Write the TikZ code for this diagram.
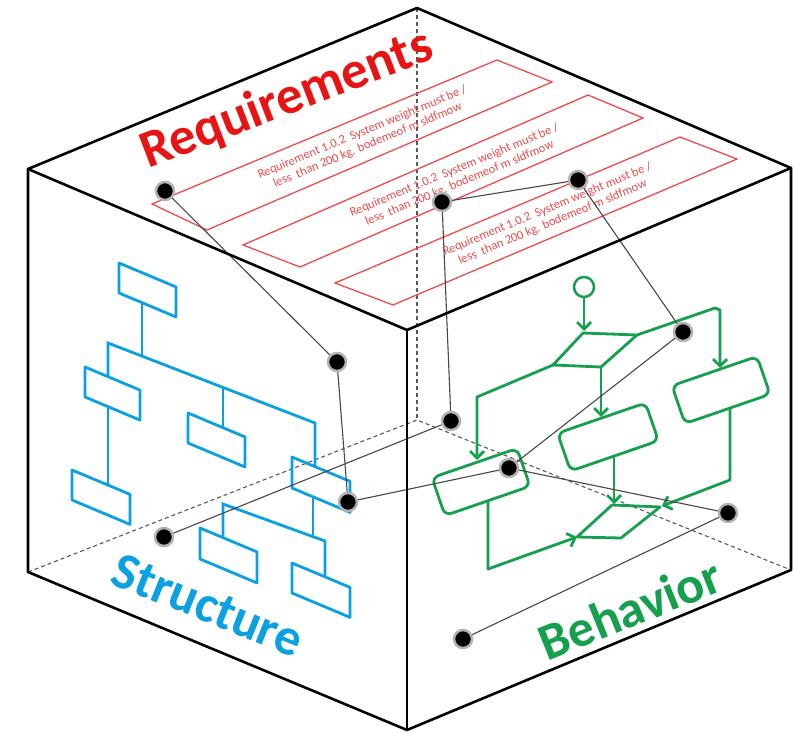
\documentclass[tikz,border=0pt]{standalone}
\usepackage{fontspec}
\setmainfont{Carlito}
\usetikzlibrary{arrows.meta}
\definecolor{reqred}{RGB}{232,20,20}
\definecolor{boxred}{RGB}{238,75,75}
\definecolor{strblue}{RGB}{10,160,225}
\definecolor{behgreen}{RGB}{22,160,78}
\newcommand{\sbx}[4]{\draw[sbox] (#1,#2) -- ++(#3,{0.42*#3}) -- ++(0,#4) -- ++(-#3,{-0.42*#3}) -- cycle;}
\begin{document}
\begin{tikzpicture}[x=1pt,y=-1pt,
 edge/.style={line width=2.6pt, line cap=round, line join=round},
 hidden/.style={black!65, line width=1.1pt, dash pattern=on 4pt off 3pt},
 link/.style={black!72, line width=1.1pt},
 dot/.style={circle, fill=black, draw=black!30, line width=2.5pt, minimum size=18pt, inner sep=0pt},
 reqbox/.style={boxred, line width=1.3pt},
 reqtext/.style={text=boxred, font=\fontsize{12.5}{14}\selectfont, align=center, rotate=22.6, inner sep=0pt},
 sbox/.style={strblue, line width=2.8pt, line join=round},
 sline/.style={strblue, line width=2.8pt},
 gline/.style={behgreen, line width=2.8pt, line join=round},
 garrow/.style={gline, -{Straight Barb[length=7pt,width=14pt]}},
 gbox/.style={draw=behgreen, line width=2.8pt, rounded corners=7pt, minimum width=90pt, minimum height=40pt, rotate=19, inner sep=0pt},
 title/.style={font=\fontsize{53}{60}\selectfont\bfseries, inner sep=0pt}
]
\useasboundingbox (0,0) rectangle (793,733);
\fill[white] (0,0) rectangle (793,733);
% cube corners
\coordinate (T) at (417,8);
\coordinate (L) at (28,169);
\coordinate (R) at (791,168);
\coordinate (F) at (407,330);
\coordinate (BL) at (28,572);
\coordinate (BF) at (407,730);
\coordinate (BR) at (791,570);
\coordinate (H) at (417,420);
% hidden edges
\draw[hidden] (T) -- (H);
\draw[hidden] (BL) -- (H) -- (BR);
% requirements
\draw[reqbox] (152,204) -- (497,60) -- (552,82) -- (207,230) -- cycle;
\draw[reqbox] (243,245) -- (588,95) -- (643,118) -- (300,267) -- cycle;
\draw[reqbox] (335,283) -- (680,137) -- (737,159) -- (393,305) -- cycle;
\node[reqtext] (q1) at (365,139) {Requirement 1.0.2\ \ System weight must be /\\less\ \ than 200 kg. bodemeof m sldfmow};
\node[reqtext] (q2) at (457,177) {Requirement 1.0.2\ \ System weight must be /\\less\ \ than 200 kg. bodemeof m sldfmow};
\node[reqtext] (q3) at (550,216) {Requirement 1.0.2\ \ System weight must be /\\less\ \ than 200 kg. bodemeof m sldfmow};
\node[title, text=reqred, rotate=21] (req) at (287,100) {Requirements};
% structure
\sbx{119}{263}{57}{30}
\sbx{85}{367}{55}{30}
\sbx{188}{413}{57}{30}
\sbx{72}{470}{58}{30}
\sbx{292}{457}{58}{31}
\sbx{200}{528}{57}{31}
\sbx{292}{563}{58}{30}
\draw[sline] (142,303) -- (142,356);
\draw[sline] (108,377) -- (108,343) -- (315,423) -- (315,467);
\draw[sline] (223,387) -- (223,428);
\draw[sline] (108,407) -- (108,485);
\draw[sline] (313,497) -- (313,535);
\draw[sline] (223,538) -- (223,504) -- (325,541) -- (325,577);
\node[title, text=strblue, rotate=-22, font=\fontsize{52}{60}\selectfont\bfseries] (str) at (208,605) {Structure};
% behavior
\node[draw=behgreen, circle, line width=2.5pt, minimum size=20pt, inner sep=0pt] (st) at (584,287) {};
\coordinate (f1) at (583,333);
\coordinate (f2) at (637,335);
\coordinate (f3) at (601,367);
\coordinate (f4) at (553,365);
\draw[garrow] (st.south) -- (584,331);
\draw[gline] (f1) -- (f2) -- (f3) -- (f4) -- cycle;
\node[gbox] (bl) at (481,482) {};
\node[gbox, minimum width=93pt] (bm) at (608,437) {};
\node[gbox] (br) at (721,390) {};
\draw[garrow] (f2) -- (715,308) -- (720,310) -- (720,368);
\draw[garrow] (f4) -- (477,397) -- (477,460);
\draw[garrow] (f3) -- (601,417);
\coordinate (j1) at (612,505);
\coordinate (j2) at (660,507);
\coordinate (j3) at (621,538);
\coordinate (j4) at (577,537);
\draw[gline] (j1) -- (j2) -- (j3) -- (j4) -- cycle;
\draw[garrow] (488,501) -- (488,569) -- (j4);
\draw[garrow] (614,456) -- (614,504);
\draw[garrow] (730,407) -- (730,480) -- (662,506);
\node[title, text=behgreen, rotate=22, font=\fontsize{52}{60}\selectfont\bfseries] (beh) at (630,609) {Behavior};
% dots
\node[dot] (d1) at (165,191) {};
\node[dot] (d2) at (337,362) {};
\node[dot] (d3) at (442,202) {};
\node[dot] (d4) at (578,180) {};
\node[dot] (d5) at (683,332) {};
\node[dot] (d6) at (451,421) {};
\node[dot] (d7) at (509,468) {};
\node[dot] (d8) at (348,502) {};
\node[dot] (d9) at (164,537) {};
\node[dot] (d10) at (728,513) {};
\node[dot] (d11) at (463,639) {};
\draw[link] (d1) -- (d2) -- (d8) -- (d7) -- (d5) -- (d4) -- (d3) -- (d6) -- (d9);
\draw[link] (d7) -- (d10) -- (d11);
% cube edges
\draw[edge] (L) -- (T) -- (R) -- (F) -- cycle;
\draw[edge] (L) -- (BL) -- (BF) -- (BR) -- (R);
\draw[edge] (F) -- (BF);
\end{tikzpicture}
\end{document}
